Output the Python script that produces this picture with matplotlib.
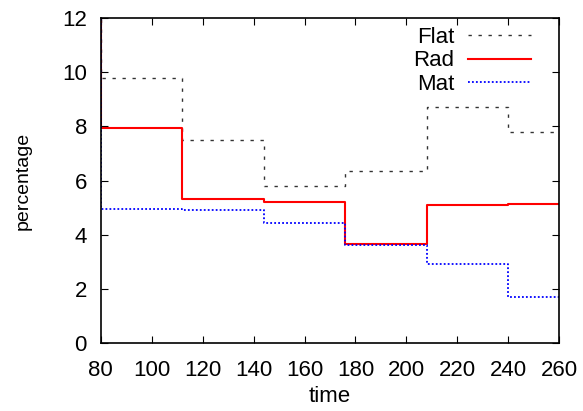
import numpy as np
import matplotlib.pyplot as plt

plt.rcParams['font.family'] = ['Liberation Sans', 'DejaVu Sans']

# sample times (each value holds until the next time)
time = [48, 80, 112, 144, 176, 208, 240, 272]
flat = [100, 9.78, 7.5, 5.81, 6.36, 8.72, 7.8, 7.8]
rad = [100, 7.95, 5.32, 5.22, 3.67, 5.1, 5.12, 5.12]
mat = [100, 4.97, 4.9, 4.45, 3.61, 2.92, 1.71, 1.71]

xticks = list(range(80, 261, 20))
yticks = list(range(0, 13, 2))

fig = plt.figure(figsize=(5.83, 4.11), dpi=100)
ax = fig.add_axes([0.173, 0.165, 0.786, 0.791])

ax.step(time, flat, where='post', color='#333333', lw=1, ls=(0, (2.4, 4.8)), label='Flat')
ax.step(time, rad, where='post', color='red', lw=1.5, label='Rad')
ax.step(time, mat, where='post', color='blue', lw=1.3, ls=(0, (1, 1.2)), label='Mat')

ax.set_xlim(80, 260)
ax.set_ylim(0, 12)
ax.set_xticks(xticks)
ax.set_yticks(yticks)
ax.tick_params(direction='in', top=True, right=True, labelsize=16, length=5)
ax.tick_params(axis='x', pad=12)
ax.tick_params(axis='y', pad=10)
for s in ax.spines.values():
    s.set_linewidth(1.2)

ax.set_xlabel('time', fontsize=16, labelpad=4)
ax.set_ylabel('percentage', fontsize=14, labelpad=22)

ax.legend(loc='upper right', frameon=False, markerfirst=False, fontsize=16,
          handlelength=2.84, handletextpad=0.63, labelspacing=0.11,
          borderaxespad=0.0, bbox_to_anchor=(0.959, 1.0))

fig.savefig('out.png', dpi=100)
